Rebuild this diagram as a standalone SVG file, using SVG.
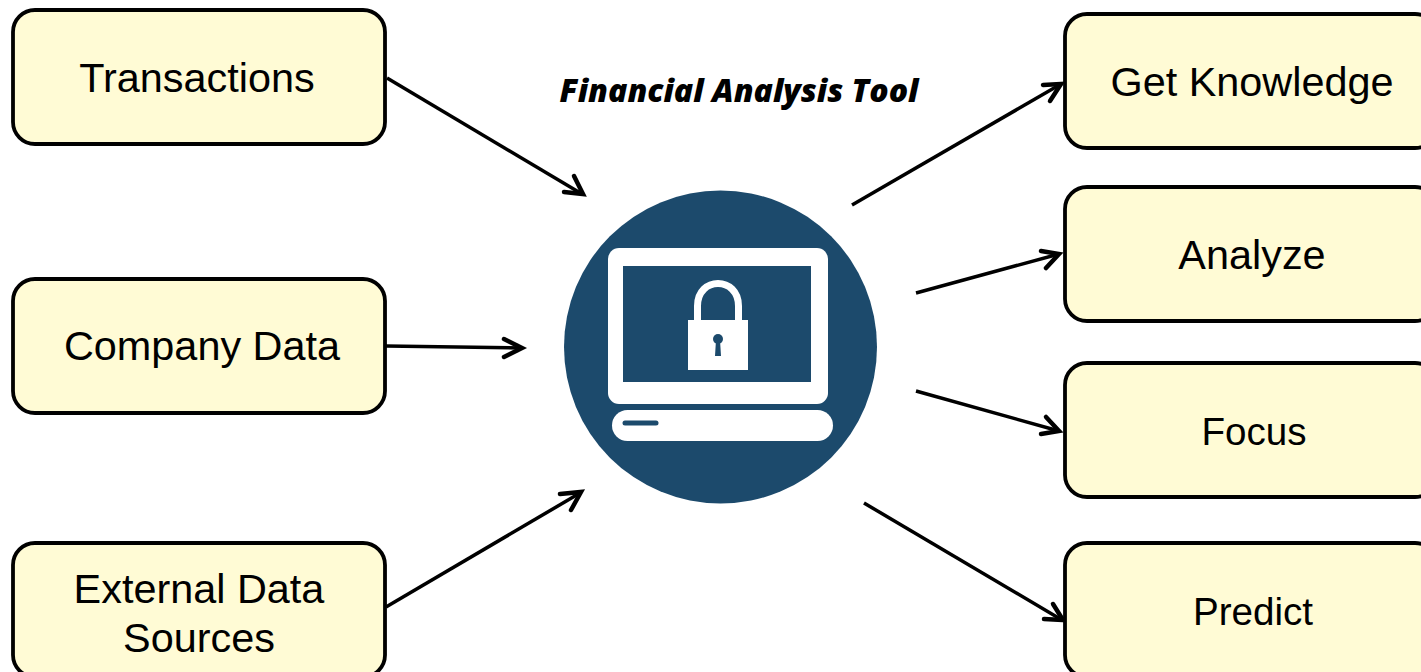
<svg xmlns="http://www.w3.org/2000/svg" width="1421" height="672" viewBox="0 0 1421 672">
<style>
.box{fill:#fffbd5;stroke:#000;stroke-width:3.800}
.lbl{font-family:"Liberation Sans",Arial,sans-serif;font-size:41.400px;fill:#000;text-anchor:middle}
.sm{font-size:38.600px}
.ttl{font-family:"Open Sans",sans-serif;font-size:32px;font-weight:800;font-style:italic;fill:#000;text-anchor:middle}
.c{fill:none;stroke:#000;stroke-width:3.500}
.h{fill:none;stroke:#000;stroke-width:4.500;stroke-linecap:round;stroke-linejoin:miter}
</style>
<rect width="1421" height="672" fill="#fff"/>
<g id="connectors">
<path class="c" d="M387 78L582 194"/><path class="h" d="M564 192L583 194L574 176"/>
<path class="c" d="M386 346L522 348"/><path class="h" d="M504 339L522 348L504 357"/>
<path class="c" d="M386 607L580 493"/><path class="h" d="M560 494L581 492L571 510"/>
<path class="c" d="M852 205L1061 84"/><path class="h" d="M1043 85L1061 84L1050 101"/>
<path class="c" d="M916 293L1059 254"/><path class="h" d="M1041 251L1059 254L1046 268"/>
<path class="c" d="M916 391L1059 431"/><path class="h" d="M1046 417L1059 431L1041 434"/>
<path class="c" d="M864 503L1062 620"/><path class="h" d="M1053 604L1063 620L1044 619"/>
</g>
<g id="transactions"><rect class="box" x="13" y="10" width="372" height="134" rx="22"/><text class="lbl" x="197" y="92">Transactions</text></g>
<g id="company-data"><rect class="box" x="13" y="279" width="372" height="134" rx="22"/><text class="lbl" x="202" y="360">Company Data</text></g>
<g id="external-data"><rect class="box" x="13" y="543" width="372" height="134" rx="22"/><text class="lbl" x="199" y="603">External Data</text><text class="lbl" x="199" y="652">Sources</text></g>
<g id="get-knowledge"><rect class="box" x="1065" y="14" width="372" height="134" rx="22"/><text class="lbl" x="1252" y="96">Get Knowledge</text></g>
<g id="analyze"><rect class="box" x="1065" y="187" width="372" height="134" rx="22"/><text class="lbl" x="1252" y="269">Analyze</text></g>
<g id="focus"><rect class="box" x="1065" y="363" width="372" height="134" rx="22"/><text class="lbl sm" x="1254" y="445">Focus</text></g>
<g id="predict"><rect class="box" x="1065" y="543" width="372" height="134" rx="22"/><text class="lbl sm" x="1253" y="625">Predict</text></g>
<g id="title"><text class="ttl" x="739" y="102">Financial Analysis Tool</text></g>
<g id="tool">
<circle cx="720.500" cy="347" r="156.500" fill="#1c4a6c"/>
<rect x="608" y="248" width="220" height="156" rx="11" fill="#fff"/>
<rect x="623" y="266" width="188" height="116" fill="#1c4a6c"/>
<path d="M697.500 322V306C697.500 276 738.500 276 738.500 306V322" fill="none" stroke="#fff" stroke-width="7"/>
<rect x="688" y="320" width="60" height="50" fill="#fff"/>
<circle cx="718" cy="339" r="5" fill="#1c4a6c"/>
<path d="M716 340H720L721 356H715Z" fill="#1c4a6c"/>
<rect x="612" y="410" width="221" height="31" rx="15.500" fill="#fff"/>
<path d="M625 423H656" stroke="#1c4a6c" stroke-width="5" stroke-linecap="round"/>
</g>
</svg>
